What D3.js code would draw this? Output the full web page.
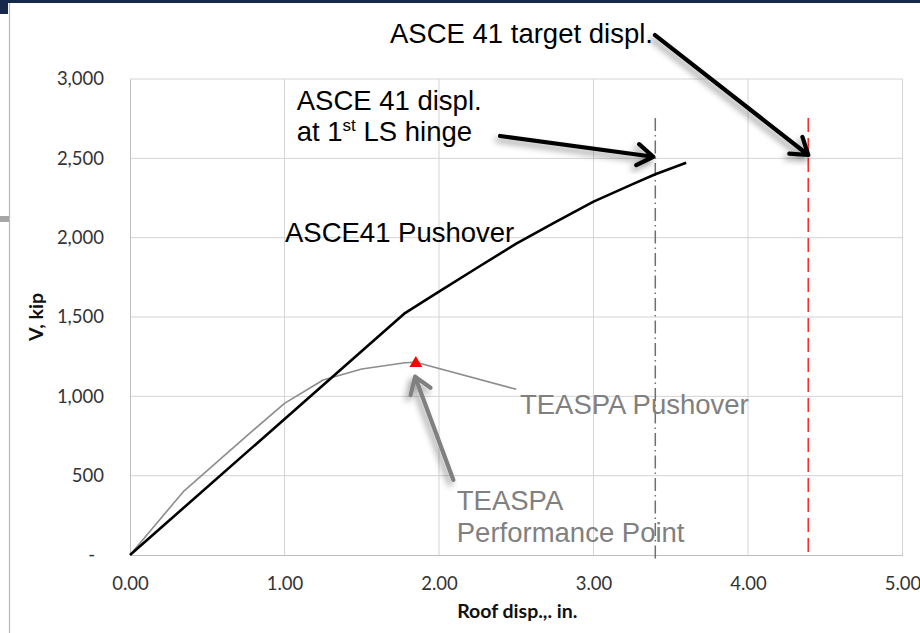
<!DOCTYPE html>
<html><head><meta charset="utf-8">
<script src="https://cdn.jsdelivr.net/npm/d3@7"></script>
<style>
html,body{margin:0;padding:0;background:#fff;}
svg{display:block;}
</style></head><body>
<svg id="chart" width="920" height="633"></svg>
<script>
// ---------- data ----------
const xTickValues = [0, 1, 2, 3, 4, 5];
const yTickValues = [0, 500, 1000, 1500, 2000, 2500, 3000];
const asceDisp = [0, 1.78, 1.9, 2.0, 2.25, 2.5, 2.75, 3.0, 3.25, 3.4, 3.6];
const asceV    = [0, 1525, 1598, 1660, 1812, 1962, 2097, 2227, 2336, 2400, 2472];
const teaspaDisp = [0, 0.345, 0.787, 1.0, 1.25, 1.5, 1.78, 1.85, 2.5];
const teaspaV    = [0, 399, 777, 956, 1103, 1172, 1212, 1215, 1044];
const perfPointDisp = 1.85;
const perfPointV = 1215;
const hingeDisp = 3.40;
const targetDisp = 4.39;
const refLineTopV = 2754;
const xTitle = "Roof disp.,. in.";
const yTitle = "V, kip";
// annotation texts (anchor points in data units)
const labelTexts = ["ASCE 41 target displ.", "ASCE 41 displ.", "at 1", "ASCE41 Pushover", "TEASPA Pushover", "TEASPA", "Performance Point"];
const labelDisp  = [1.683, 1.079, 1.079, 1.003, 2.524, 2.115, 2.115];
const labelV     = [3227, 2805, 2609, 1975, 889, 284, 84];
// arrows: tail -> tip in data units
const arrowTailDisp = [3.398, 2.395, 2.093];
const arrowTailV    = [3277, 2641, 473];
const arrowTipDisp  = [4.39, 3.387, 1.845];
const arrowTipV     = [2521, 2510, 1124];

// ---------- layout ----------
const svg = d3.select("#chart");
const W = 920, H = 633;
const plot = {left: 130, right: 902.5, top: 79, bottom: 555};
const x = d3.scaleLinear().domain([0, 5]).range([plot.left, plot.right]);
const y = d3.scaleLinear().domain([0, 3000]).range([plot.bottom, plot.top]);

const defs = svg.append("defs");
const f = defs.append("filter").attr("id", "shadow").attr("x", "-30%").attr("y", "-30%").attr("width", "160%").attr("height", "160%");
f.append("feDropShadow").attr("dx", -3).attr("dy", 4).attr("stdDeviation", 3)
  .attr("flood-color", "#000").attr("flood-opacity", 0.4);

// slide frame decorations
svg.append("rect").attr("x", 0).attr("y", 0).attr("width", W).attr("height", 3).attr("fill", "#17294a");
svg.append("rect").attr("x", 0).attr("y", 0).attr("width", 8).attr("height", 14).attr("fill", "#17294a");
svg.append("line").attr("x1", 9.5).attr("x2", 9.5).attr("y1", 3).attr("y2", H).attr("stroke", "#b8b8b8").attr("stroke-width", 1.2);
svg.append("rect").attr("x", 0).attr("y", 216).attr("width", 9).attr("height", 6).attr("fill", "#a6a6a6");

// gridlines
const grid = svg.append("g");
grid.selectAll(".gx").data(xTickValues.filter(d => d > 0)).join("line")
  .attr("x1", d => x(d)).attr("x2", d => x(d)).attr("y1", plot.top).attr("y2", plot.bottom)
  .attr("stroke", "#d4d4d4").attr("stroke-width", 1);
grid.selectAll(".gy").data(yTickValues.filter(d => d > 0)).join("line")
  .attr("x1", plot.left).attr("x2", plot.right).attr("y1", d => y(d)).attr("y2", d => y(d))
  .attr("stroke", "#d4d4d4").attr("stroke-width", 1);

// axes
const tickFont = "Lato, 'Open Sans', sans-serif";
const xAxis = svg.append("g").attr("transform", `translate(0,${plot.bottom})`)
  .call(d3.axisBottom(x).tickValues(xTickValues).tickFormat(d3.format(".2f")).tickSize(0).tickPadding(22));
xAxis.select(".domain").attr("stroke", "#bfbfbf");
xAxis.selectAll("text").attr("font-family", tickFont).attr("font-size", 18.5).attr("fill", "#333");

const yAxis = svg.append("g").attr("transform", `translate(${plot.left},0)`)
  .call(d3.axisLeft(y).tickValues(yTickValues).tickFormat(d => d === 0 ? "-" : d3.format(",")(d)).tickSize(0).tickPadding(26));
yAxis.select(".domain").attr("stroke", "#bfbfbf");
yAxis.selectAll("text").attr("font-family", tickFont).attr("font-size", 18.5).attr("fill", "#333")
  .attr("dx", d => d === 0 ? -9 : 0);

// axis titles
svg.append("text").attr("x", (plot.left + plot.right) / 2 + 1).attr("y", 618)
  .attr("text-anchor", "middle").attr("font-family", tickFont).attr("font-weight", "bold")
  .attr("font-size", 19.5).attr("fill", "#111").text(xTitle);
svg.append("text").attr("transform", `translate(43,${(plot.top + plot.bottom) / 2}) rotate(-90)`)
  .attr("text-anchor", "middle").attr("font-family", tickFont).attr("font-weight", "bold")
  .attr("font-size", 19.5).attr("fill", "#111").text(yTitle);

// reference vertical lines
svg.append("line").attr("x1", x(hingeDisp)).attr("x2", x(hingeDisp))
  .attr("y1", y(refLineTopV)).attr("y2", y(0) + 5)
  .attr("stroke", "#707070").attr("stroke-width", 1.5).attr("stroke-dasharray", "13,4,1.5,4");
svg.append("line").attr("x1", x(targetDisp)).attr("x2", x(targetDisp))
  .attr("y1", y(refLineTopV)).attr("y2", y(0))
  .attr("stroke", "#ff2a2a").attr("stroke-width", 1.6).attr("stroke-dasharray", "14,6");

// series
const line = d3.line().x(d => x(d[0])).y(d => y(d[1]));
const teaspa = teaspaDisp.map((d, i) => [d, teaspaV[i]]);
const asce = asceDisp.map((d, i) => [d, asceV[i]]);
svg.append("path").datum(teaspa).attr("d", line).attr("fill", "none")
  .attr("stroke", "#8c8c8c").attr("stroke-width", 1.6).attr("stroke-linejoin", "round");
svg.append("path").datum(asce).attr("d", line).attr("fill", "none")
  .attr("stroke", "#000").attr("stroke-width", 2.6).attr("stroke-linejoin", "round");

// performance point marker
svg.append("path").attr("d", d3.symbol(d3.symbolTriangle, 70)())
  .attr("transform", `translate(${x(perfPointDisp)},${y(perfPointV) + 1})`)
  .attr("fill", "#ff0000");

// arrows
const arrowColors = ["#000", "#000", "#808080"];
arrowTailDisp.forEach((_, i) => {
  const x1 = x(arrowTailDisp[i]), y1 = y(arrowTailV[i]);
  const x2 = x(arrowTipDisp[i]), y2 = y(arrowTipV[i]);
  const ang = Math.atan2(y2 - y1, x2 - x1);
  const L = 19, a = 34 * Math.PI / 180;
  const hx1 = x2 - L * Math.cos(ang - a), hy1 = y2 - L * Math.sin(ang - a);
  const hx2 = x2 - L * Math.cos(ang + a), hy2 = y2 - L * Math.sin(ang + a);
  svg.append("path")
    .attr("d", `M${x1},${y1}L${x2},${y2}M${hx1},${hy1}L${x2},${y2}L${hx2},${hy2}`)
    .attr("fill", "none").attr("stroke", arrowColors[i]).attr("stroke-width", 4.2)
    .attr("stroke-linecap", "round").attr("stroke-linejoin", "round")
    .attr("filter", "url(#shadow)");
});

// annotation texts
const annFont = "'Liberation Sans', Arial, sans-serif";
const annColors = ["#000", "#000", "#000", "#000", "#808080", "#808080", "#808080"];
labelTexts.forEach((t, i) => {
  const tx = svg.append("text").attr("x", x(labelDisp[i])).attr("y", y(labelV[i]))
    .attr("font-family", annFont).attr("font-size", 27.5).attr("fill", annColors[i]);
  if (i === 2) {
    tx.append("tspan").text(t);
    tx.append("tspan").attr("dy", -10).attr("font-size", 17).text("st");
    tx.append("tspan").attr("dy", 10).text(" LS hinge");
  } else {
    tx.text(t);
  }
});
</script>
</body></html>
